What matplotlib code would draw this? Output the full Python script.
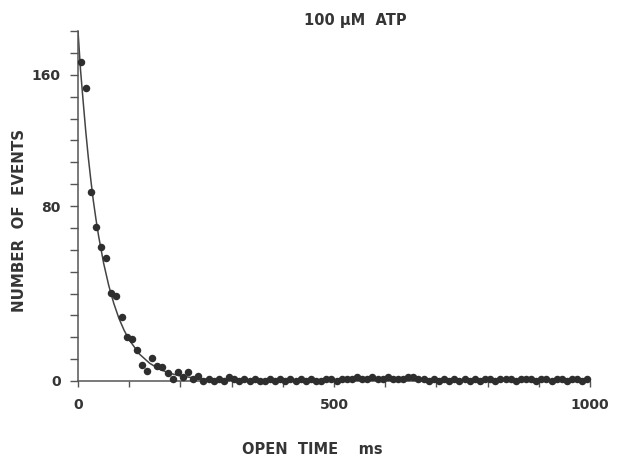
import numpy as np
import matplotlib
matplotlib.use("Agg")
import matplotlib.pyplot as plt

# open time histogram, 100 uM ATP (10 ms bins)
bin_width = 10
open_time = np.arange(5, 1000, bin_width)
n_events = [167.5, 152, 88.7, 70.5, 61.4, 56.4, 40.4, 38.9, 29.1, 20.3,
            19.2, 14.2, 7.3, 4.6, 10.5, 6.9, 6.5, 3.5, 1.1, 4.3,
            2.0, 4.3, 1.0, 2.5, 0, 1, 0, 1, 0, 2,
            1, 0, 1, 0, 1, 0, 0, 1, 0, 1,
            0, 1, 0, 1, 0, 1, 0, 0, 1, 1,
            0, 1, 1, 1, 2, 1, 1, 2, 1, 1,
            2, 1, 1, 1, 2, 2, 1, 1, 0, 1,
            0, 1, 0, 1, 0, 1, 0, 1, 0, 1,
            1, 0, 1, 1, 1, 0, 1, 1, 1, 0,
            1, 1, 0, 1, 1, 0, 1, 1, 0, 1]

# fitted curve
fit_time = [0, 5, 10, 15, 20, 25, 30, 35, 40, 50, 60, 70, 80, 90, 100,
            120, 140, 160, 180, 200, 240, 300, 400, 1000]
fit_events = [186.7, 162.7, 144, 126, 110, 96, 83.1, 74.1, 66.6, 53.9, 43.7,
              35.4, 28.6, 23.2, 18.8, 12.3, 8.1, 5.3, 3.5, 2.3, 1.0, 0.3, 0.1, 0]

y_labels = {0: "0", 80: "80", 160: "160"}


# the printed axis is squeezed above 80 (ticks every 10 below, every 13.3 above)
def fwd(y):
    y = np.asarray(y, dtype=float)
    return np.where(y <= 80, y, 80 + (y - 80) * 0.75)


def inv(f):
    f = np.asarray(f, dtype=float)
    return np.where(f <= 80, f, 80 + (f - 80) / 0.75)


ink = "#353535"
plt.rcParams["font.family"] = "DejaVu Sans"

fig = plt.figure(figsize=(6.21, 4.63), dpi=100)
ax = fig.add_axes([78 / 621, 1 - 381 / 463, 512 / 621, 350 / 463])

ax.plot(fit_time, fit_events, color="#444444", lw=1.1, zorder=2)
ax.plot(open_time, n_events, "o", color="#2e2e2e", ms=5.4, mec="none", zorder=3,
        clip_on=False)

ax.set_yscale("function", functions=(fwd, inv))
ax.set_xlim(0, 1000)
ax.set_ylim(0, 186.67)

yt = list(range(0, 81, 10)) + [80 + 40 / 3 * k for k in range(1, 9)]
ax.set_yticks(yt)
ax.set_yticklabels([y_labels.get(int(round(v)), "") if abs(v - round(v)) < 0.01 else "" for v in yt])
ax.set_xticks(range(0, 1001, 100))
ax.set_xticklabels(["0" if v == 0 else "500" if v == 500 else "1000" if v == 1000 else ""
                    for v in range(0, 1001, 100)])

for s in ["top", "right"]:
    ax.spines[s].set_visible(False)
for s in ["left", "bottom"]:
    ax.spines[s].set_color("#555555")
    ax.spines[s].set_linewidth(1.1)

ax.tick_params(axis="y", direction="out", length=5.5, width=1, color="#555555",
               pad=7, labelsize=10, labelcolor=ink)
ax.tick_params(axis="x", direction="out", length=4, width=1, color="#555555",
               pad=8, labelsize=10, labelcolor=ink)
for lab in ax.get_xticklabels() + ax.get_yticklabels():
    lab.set_fontweight("bold")

fig.text(355 / 621, 1 - 20 / 463, "100 \u00b5M  ATP", ha="center", va="center",
         fontsize=10.5, fontweight="bold", color=ink)
fig.text(312 / 621, 1 - 450 / 463, "OPEN  TIME    ms", ha="center", va="center",
         fontsize=10.5, fontweight="bold", color=ink)
fig.text(20 / 621, 1 - 220 / 463, "NUMBER  OF  EVENTS", ha="center", va="center",
         rotation=90, fontsize=10.8, fontweight="bold", color=ink)

fig.savefig("out.png", dpi=100)
